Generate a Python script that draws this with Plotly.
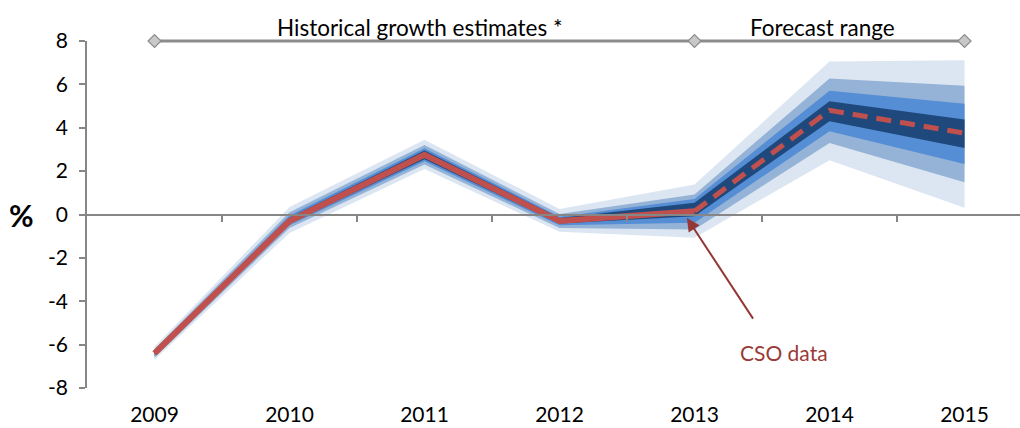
import plotly.graph_objects as go

years = ["2009", "2010", "2011", "2012", "2013", "2014", "2015"]
xpos = list(range(len(years)))

# CSO data (solid) and forecast central path (dashed)
cso = [-6.4, -0.3, 2.75, -0.3, 0.15]
forecast = [0.15, 4.8, 3.75]

# fan chart bands (upper, lower) from outermost to innermost
band_outer_hi = [-6.1, 0.35, 3.45, 0.25, 1.38, 7.06, 7.11]
band_outer_lo = [-6.7, -0.85, 2.1, -0.8, -1.07, 2.5, 0.31]
band_mid_hi = [-6.2, 0.1, 3.2, 0.02, 0.92, 6.27, 5.94]
band_mid_lo = [-6.6, -0.62, 2.3, -0.62, -0.69, 3.3, 1.49]
band_in_hi = [-6.28, -0.05, 3.05, -0.1, 0.72, 5.71, 5.11]
band_in_lo = [-6.52, -0.5, 2.45, -0.5, -0.38, 3.84, 2.33]
band_core_hi = [-6.33, -0.15, 2.95, -0.16, 0.54, 5.22, 4.38]
band_core_lo = [-6.47, -0.42, 2.55, -0.42, -0.08, 4.3, 3.07]

yticks = [-8, -6, -4, -2, 0, 2, 4, 6, 8]
ytick_text = ["-8", "-6", "-4", "-2", "0", "2", "4", "6", "8"]

# top range markers (category indices of 2009, 2013, 2015)
range_marks = [0, 4, 6]
range_level = 8

FONT = "Lato"
fig = go.Figure()

bands = [
    (band_outer_hi, band_outer_lo, "#DCE6F2"),
    (band_mid_hi, band_mid_lo, "#95B3D7"),
    (band_in_hi, band_in_lo, "#558ED5"),
    (band_core_hi, band_core_lo, "#1F497D"),
]
for hi, lo, col in bands:
    fig.add_trace(go.Scatter(
        x=xpos + xpos[::-1], y=hi + lo[::-1], fill="toself", fillcolor=col,
        mode="none", line=dict(width=0), hoverinfo="skip", showlegend=False))

fig.add_trace(go.Scatter(x=xpos[:len(cso)], y=cso, mode="lines",
                         line=dict(color="#C0504D", width=6), showlegend=False))
fig.add_trace(go.Scatter(x=xpos[4:4 + len(forecast)], y=forecast, mode="lines",
                         line=dict(color="#C0504D", width=5, dash="15px,9px"),
                         showlegend=False))

# top range markers (line drawn as a shape)
fig.add_trace(go.Scatter(x=range_marks, y=[range_level] * len(range_marks), mode="markers",
                         marker=dict(symbol="diamond", size=10, color="#C8C8C8",
                                     line=dict(color="#8C8C8C", width=1.2)),
                         cliponaxis=False, showlegend=False, xaxis="x2"))
fig.add_shape(type="line", xref="x", yref="paper", x0=range_marks[0], x1=range_marks[-1],
              y0=1, y1=1, line=dict(color="#8C8C8C", width=3), layer="below")

fig.add_annotation(x=1.97, y=1.04, xref="x", yref="paper", text="Historical growth estimates *",
                   showarrow=False, yanchor="middle",
                   font=dict(family=FONT, size=22.5, color="#000000"))
fig.add_annotation(x=4.95, y=1.04, xref="x", yref="paper", text="Forecast range",
                   showarrow=False, yanchor="middle",
                   font=dict(family=FONT, size=22.5, color="#000000"))

# CSO data pointer
fig.add_annotation(x=3.944, y=-0.16, xref="x", yref="y", axref="x", ayref="y",
                   ax=4.441, ay=-4.87, text="", showarrow=True, arrowhead=2,
                   arrowsize=1.3, arrowwidth=2, arrowcolor="#953735", standoff=0)
fig.add_annotation(x=4.663, y=-6.35, xref="x", yref="y", text="CSO data",
                   showarrow=False, font=dict(family=FONT, size=21, color="#9B3A36"))

fig.add_annotation(x=-0.07, y=0, xref="paper", yref="y", text="<b>%</b>",
                   showarrow=False, xanchor="center",
                   font=dict(family=FONT, size=30, color="#000000"))

XR = [-0.5, (1020 - 87) / 135 - 0.5]
fig.update_layout(
    width=1020, height=428,
    margin=dict(l=87, r=0, t=41, b=40, autoexpand=False),
    paper_bgcolor="white", plot_bgcolor="white",
    font=dict(family=FONT, size=21, color="#000000"),
    xaxis=dict(range=XR, tickvals=xpos, ticktext=years, showline=False, ticks="",
               showgrid=False, zeroline=False, ticklabelstandoff=12, automargin=False),
    xaxis2=dict(range=XR, overlaying="x", anchor="free", position=0.5, side="bottom",
                tickvals=[i + 0.5 for i in xpos[:-1]], showticklabels=False,
                ticks="outside", ticklen=6, tickwidth=1.5, tickcolor="#868686",
                showline=True, linecolor="#868686", linewidth=2, showgrid=False,
                zeroline=False, automargin=False),
    yaxis=dict(range=[-8, 8], tickvals=yticks, ticktext=ytick_text, showline=True,
               linecolor="#868686", linewidth=1.5, ticks="outside", ticklen=6,
               tickwidth=1.5, tickcolor="#868686", showgrid=False, zeroline=False,
               ticklabelstandoff=7, automargin=False),
)

fig.write_html("out.html")
